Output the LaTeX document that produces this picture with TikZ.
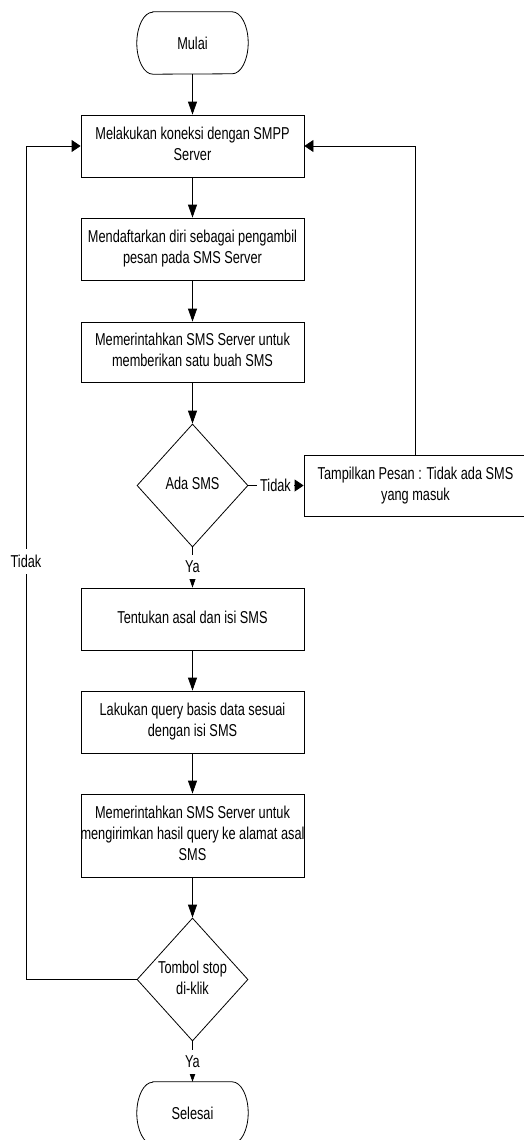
\documentclass[tikz,border=0pt]{standalone}
\usepackage{fontspec}
\setmainfont{Liberation Sans}
\usepackage{graphicx}
\usetikzlibrary{shapes.geometric,arrows.meta}
\newcommand{\vs}[1]{\makebox[0pt]{\scalebox{1}[1.35]{\begin{tabular}{@{}c@{}}#1\end{tabular}}}}
\newcommand{\lb}[1]{\scalebox{1}[1.35]{#1}}
\newcommand{\termoutline}[1]{\draw[conn] ([xshift=16pt]#1.north west) -- ([xshift=-16pt]#1.north east) arc[start angle=90,end angle=-90,x radius=16pt,y radius=31pt] -- ([xshift=16pt]#1.south west) arc[start angle=270,end angle=90,x radius=16pt,y radius=31pt] -- cycle;}
\begin{document}
\begin{tikzpicture}[x=1pt,y=-1pt,
 font=\fontsize{12.75}{15.5}\selectfont,
 every node/.style={inner sep=0pt},
 conn/.style={line width=0.8pt},
 proc/.style={draw, rectangle, minimum width=223pt, minimum height=62pt, line width=0.8pt},
 term/.style={rectangle, minimum width=111pt, minimum height=62pt},
 dec/.style={draw, diamond, minimum width=111pt, minimum height=123pt, line width=0.8pt},
 lbl/.style={fill=white, inner xsep=3pt, inner ysep=6pt},
 varr/.style={conn, -{Triangle[length=13pt,width=9pt]}},
 harr/.style={conn, -{Triangle[length=9pt,width=12pt]}}]
\useasboundingbox (0,0) rectangle (524,1140);
\clip (0,0) rectangle (524,1140);

\node[term] (mulai) at (192.5,43) {\lb{Mulai}};
\termoutline{mulai}
\node[proc] (b1) at (192.5,146) {\vs{Melakukan koneksi dengan SMPP\\Server}};
\node[proc] (b2) at (192.5,249) {\vs{Mendaftarkan diri sebagai pengambil\\pesan pada SMS Server}};
\node[proc, minimum height=60pt] (b3) at (192.5,352) {\vs{Memerintahkan SMS Server untuk\\memberikan satu buah SMS}};
\node[dec] (d1) at (192.5,485.5) {\vs{Ada SMS}};
\node[proc, minimum height=61pt] (t) at (415.5,485.5) {\vs{Tampilkan Pesan : Tidak ada SMS\\yang masuk}};
\node[proc] (b4) at (192.5,619) {\vs{Tentukan asal dan isi SMS}};
\node[proc] (b5) at (192.5,722) {\vs{Lakukan query basis data sesuai\\dengan isi SMS}};
\node[proc, minimum height=83pt] (b6) at (192.5,835.5) {\vs{Memerintahkan SMS Server untuk\\mengirimkan hasil query ke alamat asal\\SMS}};
\node[dec] (d2) at (192.5,979.5) {\vs{Tombol stop\\di-klik}};
\node[term] (sel) at (192.5,1113) {\lb{Selesai}};
\termoutline{sel}

\draw[varr] (mulai) -- (b1);
\draw[varr] (b1) -- (b2);
\draw[varr] (b2) -- (b3);
\draw[varr] (b3) -- (d1);
\draw[harr] (d1) -- (t);
\draw[varr] (d1) -- (b4);
\draw[varr] (b4) -- (b5);
\draw[varr] (b5) -- (b6);
\draw[varr] (b6) -- (d2);
\draw[varr] (d2) -- (sel);
\draw[harr] (t.north) |- (b1.east);
\coordinate (L) at (26,146);
\draw[harr] (d2.west) -| (L) -- (b1.west);

\node[lbl] (ya1) at (192.5,567) {\lb{Ya}};
\node[lbl] (ya2) at (192.5,1062) {\lb{Ya}};
\node[lbl] (td1) at (275.5,485.5) {\lb{Tidak}};
\node[lbl] (td2) at (26,561.5) {\lb{Tidak}};
\end{tikzpicture}
\end{document}
